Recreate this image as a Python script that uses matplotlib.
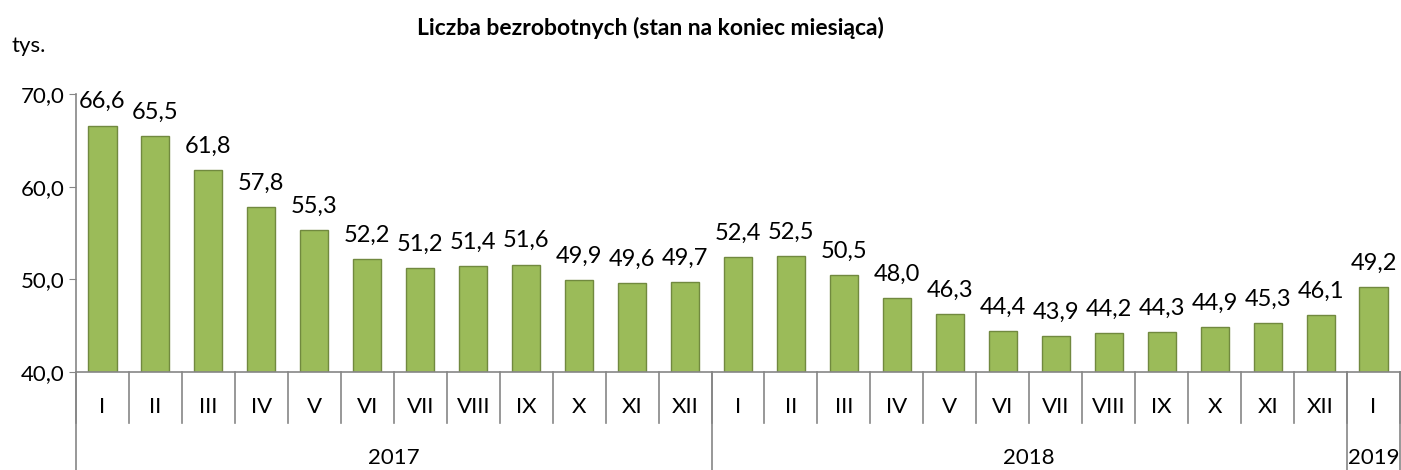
import numpy as np
import matplotlib
matplotlib.use('Agg')
import matplotlib.pyplot as plt

plt.rcParams['font.family'] = ['Lato', 'DejaVu Sans']

months = ['I', 'II', 'III', 'IV', 'V', 'VI', 'VII', 'VIII', 'IX', 'X', 'XI', 'XII',
          'I', 'II', 'III', 'IV', 'V', 'VI', 'VII', 'VIII', 'IX', 'X', 'XI', 'XII',
          'I']
values = [66.6, 65.5, 61.8, 57.8, 55.3, 52.2, 51.2, 51.4, 51.6, 49.9, 49.6, 49.7,
          52.4, 52.5, 50.5, 48.0, 46.3, 44.4, 43.9, 44.2, 44.3, 44.9, 45.3, 46.1,
          49.2]
years = ['2017', '2018', '2019']
year_counts = [12, 12, 1]

fig = plt.figure(figsize=(14.01, 4.70), dpi=100)
ax = fig.add_axes([76 / 1401, 1 - 372 / 470, (1400 - 76) / 1401, (372 - 94) / 470])

x = np.arange(len(values))
ax.bar(x, np.array(values) - 40, bottom=40, width=0.53, color='#9BBB59',
       edgecolor='#71893F', linewidth=1.0)

for xi, v in zip(x, values):
    ax.annotate('{0:.1f}'.format(v).replace('.', ','), (xi, v),
                xytext=(0, 9.5), textcoords='offset points',
                ha='center', va='bottom', fontsize=17, color='black')

ax.set_xlim(-0.5, len(values) - 0.5)
ax.set_ylim(40, 70)
ax.set_yticks([40, 50, 60, 70])
ax.set_yticklabels(['40,0', '50,0', '60,0', '70,0'], fontsize=16)
ax.tick_params(axis='y', length=5, color='#868686', pad=3)
ax.set_xticks([])

for s in ['top', 'right']:
    ax.spines[s].set_visible(False)
for s in ['left', 'bottom']:
    ax.spines[s].set_color('#868686')
    ax.spines[s].set_linewidth(1.2)
ax.spines['left'].set_bounds(40, 70)

trans = ax.get_xaxis_transform()
# month row
for xi, m in zip(x, months):
    ax.text(xi, -0.125, m, transform=trans, ha='center', va='center', fontsize=16)
for b in np.arange(len(values) + 1) - 0.5:
    ax.plot([b, b], [0, -0.183], transform=trans, color='#868686', lw=1.2, clip_on=False)

# year row
start = 0
edges = [0]
for name, n in zip(years, year_counts):
    ax.text(start - 0.5 + n / 2, -0.31, name, transform=trans, ha='center', va='center', fontsize=16)
    start += n
    edges.append(start)
for e in edges:
    ax.plot([e - 0.5, e - 0.5], [0, -0.36], transform=trans, color='#868686', lw=1.2, clip_on=False)

fig.text(12 / 1401, 1 - 46 / 470, 'tys.', ha='left', va='center', fontsize=16)
fig.text(650 / 1401, 1 - 28 / 470, 'Liczba bezrobotnych (stan na koniec miesiąca)',
         ha='center', va='center', fontsize=16.5, fontweight='bold')

fig.savefig('out.png', dpi=100)
